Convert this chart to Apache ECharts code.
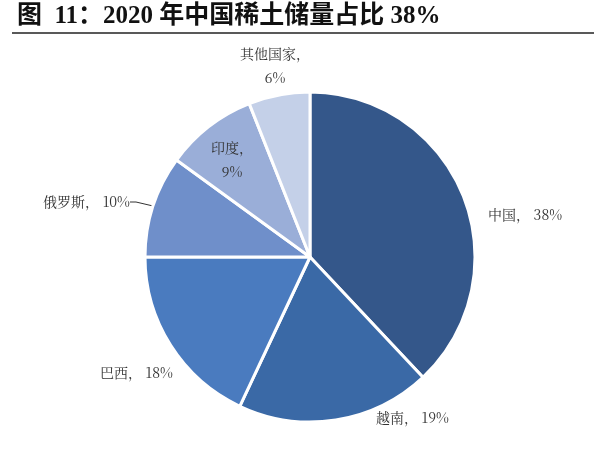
<!DOCTYPE html>
<html>
<head>
<meta charset="utf-8">
<script src="https://cdn.jsdelivr.net/npm/echarts@6/dist/echarts.min.js"></script>
<style>html,body{margin:0;padding:0;background:#fff;}#main{width:594px;height:468px;}</style>
</head>
<body>
<div id="main"></div>
<script>
const countries = ['中国', '越南', '巴西', '俄罗斯', '印度', '其他国家'];
const shares = [38, 19, 18, 10, 9, 6];
const colors = ['#34578a', '#3a69a6', '#4a7bbf', '#6f8fca', '#9aaed8', '#c4d0e8'];

// label anchor positions (x, y, align)
const labelPos = [
  [488, 215, 'left'],
  [376, 418, 'left'],
  [100, 373, 'left'],
  [130, 202, 'right'],
  [232, 160, 'center'],
  [275, 66, 'center']
];

const chart = echarts.init(document.getElementById('main'));
const fontFam = '"Noto Serif CJK SC", "Noto Sans CJK SC", serif';

chart.setOption({
  backgroundColor: '#fff',
  title: {
    text: '图  11：2020 年中国稀土储量占比 38%',
    left: 12, top: -1,
    textStyle: { fontSize: 25, fontWeight: 'bold', color: '#111', fontFamily: '"Liberation Serif", "Noto Sans CJK SC", serif' }
  },
  graphic: [{
    type: 'line', shape: { x1: 12, y1: 33, x2: 594, y2: 33 },
    style: { stroke: '#222', lineWidth: 1.5 }
  }],
  series: [{
    type: 'pie',
    center: [310, 257],
    radius: [0, 165],
    startAngle: 90,
    clockwise: true,
    itemStyle: { borderColor: '#fff', borderWidth: 3 },
    label: {
      show: true,
      color: '#333',
      fontSize: 14,
      fontFamily: fontFam,
      lineHeight: 24,
      overflow: 'none',
      width: 200,
      formatter: p => p.dataIndex >= 4 ? p.name + '，\n' + p.value + '%' : p.name + '， ' + p.value + '%'
    },
    labelLine: { show: false },
    labelLayout: p => {
      const l = labelPos[p.dataIndex];
      return { x: l[0], y: l[1], align: l[2], verticalAlign: 'middle' };
    },
    data: countries.map((c, i) => ({
      name: c, value: shares[i],
      itemStyle: { color: colors[i] },
      labelLine: i === 3 ? { show: true, length: 8, length2: 6, lineStyle: { color: '#333', width: 1 } } : undefined
    }))
  }]
});
</script>
</body>
</html>
